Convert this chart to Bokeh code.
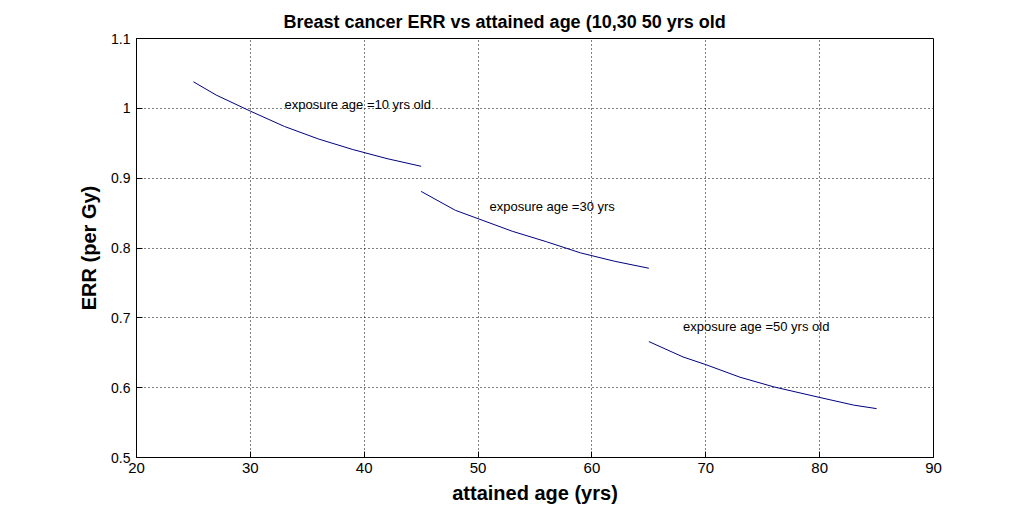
from bokeh.plotting import figure
from bokeh.models import FixedTicker, Range1d, ColumnDataSource
from bokeh.core.properties import value
from bokeh.embed import file_html
from bokeh.resources import INLINE

# ---- data ----
age_10 = [25, 27, 30, 33, 36, 39, 42, 45]
err_10 = [1.038, 1.019, 0.996, 0.974, 0.956, 0.941, 0.928, 0.917]

age_30 = [45, 48, 50, 53, 56, 59, 62, 65]
err_30 = [0.881, 0.854, 0.842, 0.824, 0.809, 0.793, 0.781, 0.771]

age_50 = [65, 68, 70, 73, 76, 80, 83, 85]
err_50 = [0.666, 0.644, 0.633, 0.615, 0.601, 0.586, 0.575, 0.570]

note_texts = ["exposure age =10 yrs old", "exposure age =30 yrs", "exposure age =50 yrs old"]
note_x = [33, 51, 68]
note_y = [1.005, 0.860, 0.687]

x_ticks = [20, 30, 40, 50, 60, 70, 80, 90]
x_tick_labels = ["20", "30", "40", "50", "60", "70", "80", "90"]
y_ticks = [0.5, 0.6, 0.7, 0.8, 0.9, 1.0, 1.1]
y_tick_labels = ["0.5", "0.6", "0.7", "0.8", "0.9", "1", "1.1"]

title_text = "Breast cancer ERR vs attained age (10,30 50 yrs old"
x_label = "attained age (yrs)"
y_label = "ERR (per Gy)"

FONT = "Liberation Sans"
LINE_COLOR = "#000080"

p = figure(
    frame_width=797, frame_height=419,
    x_range=Range1d(20, 90), y_range=Range1d(0.5, 1.1),
    output_backend="svg", toolbar_location=None,
    min_border_left=136, min_border_right=80,
    min_border_top=38, min_border_bottom=45,
    background_fill_color="white", border_fill_color="white",
)

p.title.text = title_text
p.title.text_font = FONT
p.title.text_font_size = "18px"
p.title.text_font_style = "bold"
p.title.text_color = "black"
p.title.align = "left"
p.title.offset = 147
p.title.standoff = 14

p.outline_line_color = "black"
p.outline_line_width = 1
p.outline_line_alpha = 1

for ax in (p.xaxis[0], p.yaxis[0]):
    ax.major_tick_in = 6
    ax.major_tick_out = 0
    ax.minor_tick_line_color = None
    ax.axis_line_color = "black"
    ax.major_tick_line_color = "black"
    ax.major_label_text_font = FONT
    ax.major_label_text_color = "black"
    ax.axis_label_text_font = FONT
    ax.axis_label_text_font_style = "bold"
    ax.axis_label_text_font_size = "20px"
    ax.axis_label_text_color = "black"

p.xaxis[0].ticker = FixedTicker(ticks=x_ticks)
p.xaxis[0].major_label_overrides = dict(zip(x_ticks, x_tick_labels))
p.xaxis[0].major_label_text_font_size = "15px"
p.xaxis[0].major_label_standoff = 5
p.xaxis[0].axis_label = x_label
p.xaxis[0].axis_label_standoff = 6

p.yaxis[0].ticker = FixedTicker(ticks=y_ticks)
p.yaxis[0].major_label_overrides = dict(zip(y_ticks, y_tick_labels))
p.yaxis[0].major_label_text_font_size = "14px"
p.yaxis[0].major_label_standoff = 6
p.yaxis[0].axis_label = y_label
p.yaxis[0].axis_label_standoff = 8

p.xgrid.ticker = FixedTicker(ticks=x_ticks)
p.ygrid.ticker = FixedTicker(ticks=y_ticks)
for g in (p.xgrid[0], p.ygrid[0]):
    g.grid_line_color = "black"
    g.grid_line_dash = "1 3"
    g.grid_line_width = 1
    g.grid_line_alpha = 1.0

p.line(age_10, err_10, line_color=LINE_COLOR, line_width=1)
p.line(age_30, err_30, line_color=LINE_COLOR, line_width=1)
p.line(age_50, err_50, line_color=LINE_COLOR, line_width=1)

notes = ColumnDataSource(dict(x=note_x, y=note_y, text=note_texts))
p.text(x="x", y="y", text="text", source=notes,
       text_font=value(FONT), text_font_size="13px", text_color="black",
       text_align="left", text_baseline="middle")

open("out.html", "w").write(file_html(p, INLINE))
